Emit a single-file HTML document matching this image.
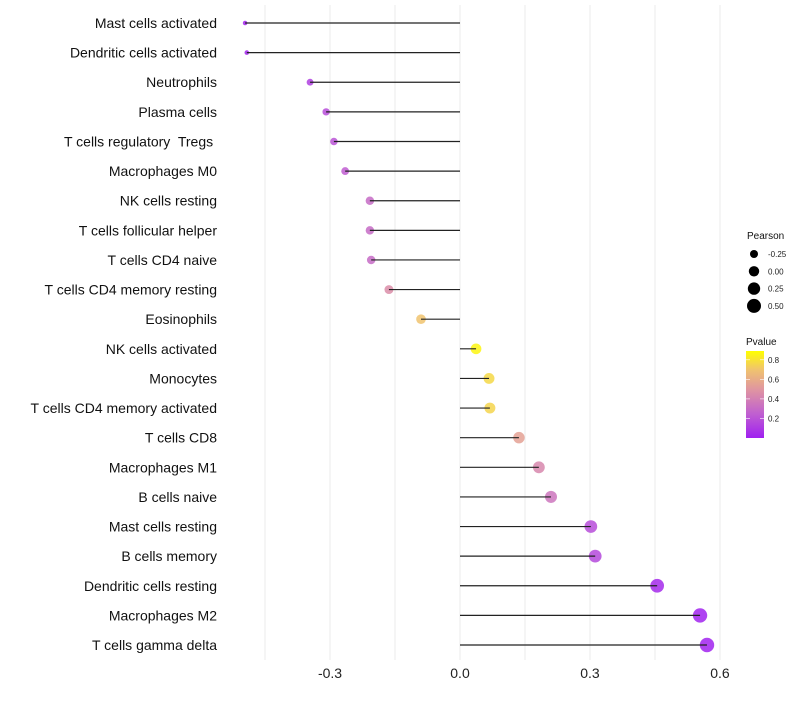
<!DOCTYPE html>
<html><head><meta charset="utf-8"><style>
body{margin:0;background:#fff;}
svg{font-family:"Liberation Sans",sans-serif;}
text{white-space:pre;}
</style></head><body>
<svg id="chart" width="800" height="700"></svg>
<script>
const categories=["Mast cells activated","Dendritic cells activated","Neutrophils","Plasma cells","T cells regulatory  Tregs ","Macrophages M0","NK cells resting","T cells follicular helper","T cells CD4 naive","T cells CD4 memory resting","Eosinophils","NK cells activated","Monocytes","T cells CD4 memory activated","T cells CD8","Macrophages M1","B cells naive","Mast cells resting","B cells memory","Dendritic cells resting","Macrophages M2","T cells gamma delta"];
const pearson=[-0.496,-0.492,-0.346,-0.309,-0.291,-0.265,-0.208,-0.208,-0.205,-0.164,-0.09,0.037,0.067,0.069,0.136,0.182,0.21,0.302,0.312,0.455,0.554,0.57];
const pvalues=[0.02,0.02,0.12,0.18,0.2,0.24,0.3,0.3,0.3,0.46,0.7,0.87,0.77,0.76,0.55,0.43,0.35,0.18,0.16,0.04,0.01,0.01];
const xTicks=[-0.3,0,0.3,0.6];
const xTickLabels=["-0.3","0.0","0.3","0.6"];
const gridVals=[-0.45,-0.3,-0.15,0,0.15,0.3,0.45,0.6];
const sizeLegend=[-0.25,0,0.25,0.5];
const sizeLegendLabels=["-0.25","0.00","0.25","0.50"];
const colorTicks=[0.8,0.6,0.4,0.2];

const NS="http://www.w3.org/2000/svg";
const svg=document.getElementById('chart');
function el(t,a,p){const e=document.createElementNS(NS,t);for(const k in a)e.setAttribute(k,a[k]);(p||svg).appendChild(e);return e;}
const xS=v=>460+v*433.3;
const yS=i=>23+i*29.62;
const rS=p=>Math.sqrt(Math.max(4,27+44*p));
const stops=[[0,[160,32,240]],[0.25,[192,96,208]],[0.5,[224,150,160]],[0.7,[240,195,110]],[0.9,[255,255,0]]];
function cS(p){p=Math.max(0,Math.min(0.9,p));for(let i=1;i<stops.length;i++){if(p<=stops[i][0]){const a=stops[i-1],b=stops[i],t=(p-a[0])/(b[0]-a[0]);return 'rgb('+a[1].map((c,j)=>Math.round(c+(b[1][j]-c)*t)).join(',')+')';}}return 'rgb(255,255,0)';}

gridVals.forEach(v=>{const g=el('line',{x1:xS(v),x2:xS(v),y1:5,y2:660,stroke:'#ebebeb','stroke-width':1});

});
xTicks.forEach((v,i)=>{const t=el('text',{x:xS(v),y:678,'text-anchor':'middle','font-size':14,fill:'#222'});t.textContent=xTickLabels[i];

});
categories.forEach((c,i)=>{
const y=yS(i);
const t=el('text',{x:217,y:y+5,'text-anchor':'end','font-size':14,fill:'#111'});t.textContent=c;


const d=el('circle',{cx:xS(pearson[i]),cy:y,r:rS(pearson[i]),fill:cS(pvalues[i]),'fill-opacity':0.85});


const l=el('line',{x1:xS(0),x2:xS(pearson[i]),y1:y,y2:y,stroke:'#222','stroke-width':1.2});


});
let t=el('text',{x:747,y:239,'font-size':10,fill:'#111'});t.textContent='Pearson';


sizeLegend.forEach((p,i)=>{const y=254+i*17.3;
const c=el('circle',{cx:754,cy:y,r:rS(p),fill:'#000'});


const s=el('text',{x:768,y:y+3,'font-size':8,fill:'#222'});s.textContent=sizeLegendLabels[i];

});
t=el('text',{x:746,y:345,'font-size':10,fill:'#111'});t.textContent='Pvalue';


const defs=el('defs',{});const lg=el('linearGradient',{id:'g',x1:0,y1:1,x2:0,y2:0},defs);
stops.forEach(s=>el('stop',{offset:s[0]/0.89,'stop-color':'rgb('+s[1].join(',')+')'},lg));
const bar=el('rect',{x:746,y:351,width:18,height:87,fill:'url(#g)'});


const cy=v=>438-v*(438-351)/0.89;
colorTicks.forEach(v=>{const s=el('text',{x:768,y:cy(v)+3,'font-size':8,fill:'#222'});s.textContent=v.toFixed(1);


el('line',{x1:746,x2:750,y1:cy(v),y2:cy(v),stroke:'#fff','stroke-width':0.6});el('line',{x1:760,x2:764,y1:cy(v),y2:cy(v),stroke:'#fff','stroke-width':0.6});});
</script>
</body></html>
